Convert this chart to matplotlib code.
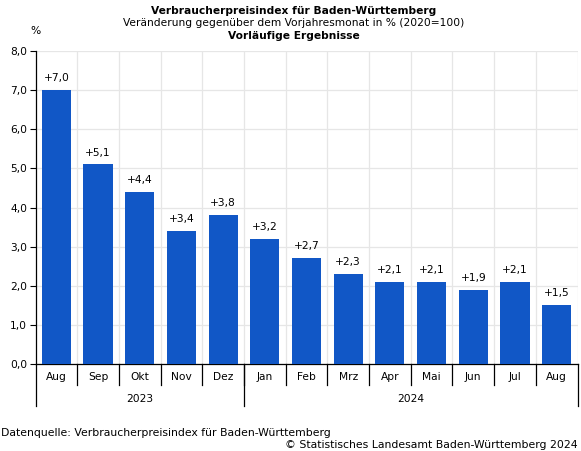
import matplotlib
matplotlib.use("Agg")
import matplotlib.pyplot as plt
from matplotlib.ticker import MultipleLocator, FuncFormatter

months = ["Aug", "Sep", "Okt", "Nov", "Dez", "Jan", "Feb", "Mrz", "Apr", "Mai", "Jun", "Jul", "Aug"]
values = [7.0, 5.1, 4.4, 3.4, 3.8, 3.2, 2.7, 2.3, 2.1, 2.1, 1.9, 2.1, 1.5]
years = ["2023", "2024"]
year_counts = [5, 8]

W, H = 581, 451
fig = plt.figure(figsize=(W / 100, H / 100), dpi=100)
plt.rcParams['font.family'] = ['DejaVu Sans']
FS = 7.7
FT = 7.8
bar_color = "#1157C6"

x0, x1 = 35.5, 577.5
y_top, y_bot = 51, 364
ax = fig.add_axes([x0 / W, 1 - y_bot / H, (x1 - x0) / W, (y_bot - y_top) / H])
n = len(months)
xs = list(range(n))
ax.bar(xs, values, width=0.70, color=bar_color, zorder=3)
ax.set_xlim(-0.5, n - 0.5)
ax.set_ylim(0, 8)
ax.yaxis.set_major_locator(MultipleLocator(1))
ax.yaxis.set_major_formatter(FuncFormatter(lambda v, p: f"{v:.1f}".replace(".", ",")))
ax.tick_params(axis='y', labelsize=FS, length=4, width=0.8, color='black', pad=2)
for v in range(0, 9):
    ax.axhline(v, color='#e6e6e6', lw=0.9, zorder=0)
for i in range(n):
    ax.axvline(i + 0.5, color='#e6e6e6', lw=0.9, zorder=0)
ax.set_xticks([])
for s in ['top', 'right']:
    ax.spines[s].set_visible(False)
ax.spines['left'].set_linewidth(0.9)
ax.spines['bottom'].set_linewidth(0.9)

for x, v in zip(xs, values):
    ax.annotate(f"+{v:.1f}".replace(".", ","), (x, v), xytext=(0, 5), textcoords='offset points',
                ha='center', va='bottom', fontsize=FS)

# category labels below the axis (in data x, axes-fraction y)
trans = ax.get_xaxis_transform()
row1 = -(377 - y_bot) / (y_bot - y_top)
sep1 = -(385 - y_bot) / (y_bot - y_top)
row2 = -(399 - y_bot) / (y_bot - y_top)
sep2 = -(406 - y_bot) / (y_bot - y_top)
for i, m in enumerate(months):
    ax.text(i, row1, m, transform=trans, ha='center', va='center', fontsize=FS, clip_on=False)
# month separators
for i in range(n - 1):
    ax.plot([i + 0.5, i + 0.5], [0, sep1], transform=trans, color='black', lw=0.9, clip_on=False)
# year labels and separators
start = -0.5
bounds = [start]
for yl, c in zip(years, year_counts):
    ax.text(start + c / 2, row2, yl, transform=trans, ha='center', va='center', fontsize=FS, clip_on=False)
    start += c
    bounds.append(start)
for b in bounds:
    ax.plot([b, b], [0, sep2], transform=trans, color='black', lw=0.9, clip_on=False)

# titles
cx = 294 / W
fig.text(cx, 1 - 11 / H, "Verbraucherpreisindex für Baden-Württemberg", ha='center', va='center',
         fontsize=FS, fontweight='bold')
fig.text(cx, 1 - 23 / H, "Veränderung gegenüber dem Vorjahresmonat in % (2020=100)", ha='center', va='center',
         fontsize=FS)
fig.text(cx, 1 - 36 / H, "Vorläufige Ergebnisse", ha='center', va='center', fontsize=FS, fontweight='bold')
fig.text(30 / W, 1 - 31 / H, "%", ha='left', va='center', fontsize=FS)

fig.text(1 / W, 1 - 433 / H, "Datenquelle: Verbraucherpreisindex für Baden-Württemberg", ha='left', va='center',
         fontsize=FT)
fig.text(578 / W, 1 - 445 / H, "© Statistisches Landesamt Baden-Württemberg 2024", ha='right', va='center',
         fontsize=FT)

fig.savefig("out.png", dpi=100)
